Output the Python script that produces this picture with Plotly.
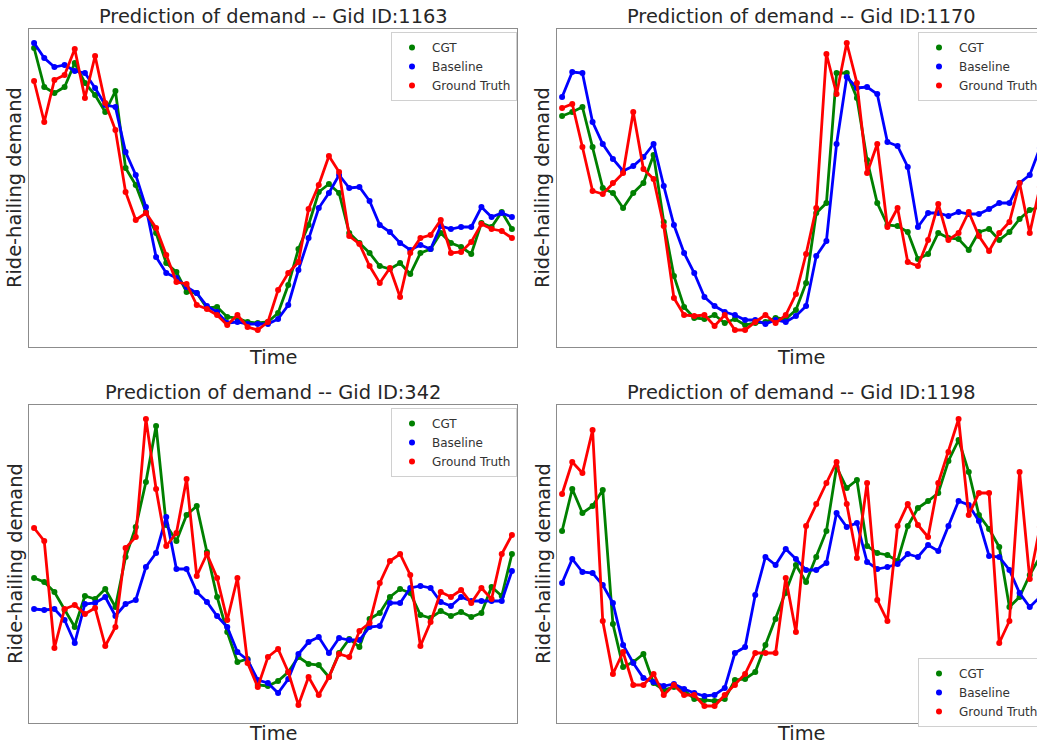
import plotly.graph_objects as go

# time steps (48 half-hour slots)
time_idx = list(range(48))

gid_ids = ["1163", "1170", "342", "1198"]

# ---- Gid 1163 ----
cgt_1163 = [299,260,254,260,284,264,252,235,256,179,162,135,114,84,75,55,54,39,40,30,29,25,24,25,
            34,62,98,122,155,163,154,114,104,94,81,78,84,73,94,98,114,104,100,93,124,120,135,118]
base_1163 = [304,289,280,282,276,274,259,242,240,195,172,140,90,74,69,60,54,41,35,24,25,23,23,23,
             28,42,77,109,139,154,172,159,160,146,122,115,104,97,102,98,121,118,120,120,140,130,134,130]
gt_1163 = [266,225,267,272,298,249,291,244,217,155,127,134,119,92,65,63,42,38,32,22,32,20,17,25,
           57,74,85,138,162,191,175,111,103,81,64,79,50,94,109,112,127,94,95,105,123,118,116,109]

# ---- Gid 1170 ----
cgt_1170 = [231,235,240,200,159,154,139,154,164,192,125,71,40,29,28,32,24,28,22,24,25,29,28,37,
            64,134,144,274,274,249,187,144,122,121,115,88,93,114,109,108,97,115,118,107,115,128,137,140]
base_1170 = [250,275,274,225,203,188,176,181,190,203,161,122,94,74,50,41,35,32,27,27,23,27,25,31,
             41,91,106,203,270,259,260,253,205,201,180,120,134,134,131,135,133,133,138,144,144,164,172,199]
gt_1170 = [239,243,200,156,153,164,174,235,178,168,121,49,32,31,32,21,32,17,17,25,32,24,32,53,
           93,139,293,253,304,264,174,203,120,139,85,81,107,143,107,114,135,111,96,114,125,164,114,160]

# ---- Gid 342 ----
cgt_342 = [145,141,131,113,96,127,124,134,116,166,196,241,297,198,182,208,217,171,126,91,61,64,38,37,
           42,51,66,59,58,46,70,84,76,104,110,126,134,130,108,105,112,107,111,106,110,136,127,169]
base_342 = [114,113,114,103,80,119,120,126,107,119,123,156,170,206,154,154,131,121,107,96,71,63,43,40,
            30,44,69,81,86,70,85,83,83,96,97,120,120,135,137,135,121,117,126,122,122,122,122,152]
gt_342 = [195,182,75,114,118,109,115,77,96,175,186,304,234,177,190,244,147,169,145,103,145,60,36,66,
          74,51,18,46,28,46,69,66,92,100,140,162,169,148,77,101,131,126,133,120,135,124,169,188]

# ---- Gid 1198 ----
cgt_1198 = [192,234,210,217,233,99,56,61,69,40,33,36,33,24,23,22,24,43,44,51,78,104,130,158,
            141,166,192,256,235,243,177,170,168,162,197,215,222,230,262,283,251,208,194,176,116,126,148,166]
base_1198 = [140,164,151,150,138,120,78,60,45,41,37,39,34,30,27,28,35,70,76,128,166,158,174,164,
             153,153,160,210,196,200,161,154,156,159,169,166,178,172,197,222,218,202,167,166,153,130,116,126]
gt_1198 = [229,261,250,293,102,49,71,38,38,49,28,38,28,28,17,17,28,38,49,70,70,70,145,91,
           197,219,240,261,219,165,240,123,102,197,219,198,186,240,271,304,208,230,230,80,102,251,144,196]

series_names = ["CGT", "Baseline", "Ground Truth"]
series_colors = ["#008000", "#0000ff", "#ff0000"]

panels = [
    (cgt_1163, base_1163, gt_1163),
    (cgt_1170, base_1170, gt_1170),
    (cgt_342, base_342, gt_342),
    (cgt_1198, base_1198, gt_1198),
]

W, H = 1037, 742
FONT = "DejaVu Sans"
TXT = "#262626"

# pixel geometry of panels: (left, right, top, bottom)
geom = [
    (29, 517, 29, 347),
    (557, 1037, 29, 347),
    (29, 517, 405, 723),
    (557, 1037, 405, 723),
]
PX_PER_STEP = 488 / 48.0

fig = go.Figure()
layout = dict(
    width=W, height=H,
    margin=dict(l=0, r=0, t=0, b=0, autoexpand=False),
    paper_bgcolor="white", plot_bgcolor="white",
    showlegend=True,
    font=dict(family=FONT, color=TXT),
)
annotations = []
legend_pos = [(391, 32), (918, 32), (391, 408), (918, 658)]

for i, (data, g) in enumerate(zip(panels, geom)):
    l, r, t, b = g
    n = "" if i == 0 else str(i + 1)
    xa, ya = "x" + n, "y" + n
    leg = "legend" if i == 0 else "legend" + str(i + 1)
    for name, color, vals in zip(series_names, series_colors, data):
        fig.add_trace(go.Scatter(
            x=time_idx, y=vals, mode="lines+markers", xaxis=xa, yaxis=ya,
            line=dict(color=color, width=2.8), marker=dict(color=color, size=6),
            showlegend=False, hoverinfo="skip"))
    for name, color in zip(series_names, series_colors):
        fig.add_trace(go.Scatter(
            x=[None], y=[None], mode="markers", xaxis=xa, yaxis=ya, name=name,
            marker=dict(color=color, size=6), legend=leg, showlegend=True))
    xmax = (r - l) / PX_PER_STEP - 0.5
    right_panel = r >= W
    layout["xaxis" + n] = dict(
        domain=[l / W, r / W], range=[-0.5, xmax], showgrid=False, zeroline=False,
        showticklabels=False, ticks="", showline=True, linecolor="#8c8c8c", linewidth=1.3,
        mirror=True, anchor=ya)
    layout["yaxis" + n] = dict(
        domain=[1 - b / H, 1 - t / H], range=[0, 318], showgrid=False, zeroline=False,
        showticklabels=False, ticks="", showline=True, linecolor="#8c8c8c", linewidth=1.3,
        mirror=(not right_panel), anchor=xa)
    lx, ly = legend_pos[i]
    layout[leg] = dict(
        x=lx / W, y=1 - ly / H, xanchor="left", yanchor="top",
        bgcolor="white", bordercolor="#d0d0d0", borderwidth=1,
        font=dict(family=FONT, size=12, color="#333333"),
        itemsizing="trace", tracegroupgap=0)
    cx = (l + (l + 488)) / 2
    annotations.append(dict(
        text="Prediction of demand -- Gid ID:" + gid_ids[i], x=cx / W, y=1 - (t - 13) / H,
        xref="paper", yref="paper", xanchor="center", yanchor="middle", showarrow=False,
        font=dict(family=FONT, size=19.4, color=TXT)))
    annotations.append(dict(
        text="Time", x=cx / W, y=1 - (b + 10) / H,
        xref="paper", yref="paper", xanchor="center", yanchor="middle", showarrow=False,
        font=dict(family=FONT, size=19.4, color=TXT)))
    annotations.append(dict(
        text="Ride-hailing demand", x=(l - 14) / W, y=1 - ((t + b) / 2) / H,
        xref="paper", yref="paper", xanchor="center", yanchor="middle", showarrow=False,
        textangle=-90, font=dict(family=FONT, size=19.4, color=TXT)))

layout["annotations"] = annotations
fig.update_layout(**layout)
fig.write_html(
    "out.html",
    config={"displayModeBar": False},
    post_script="document.body.style.margin='0';document.body.style.overflow='hidden';",
)
